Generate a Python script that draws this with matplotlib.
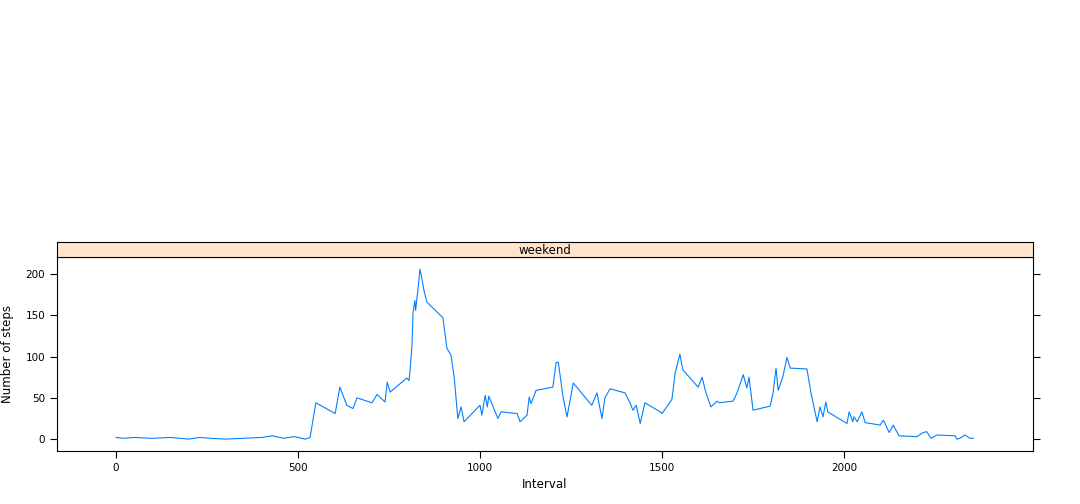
import matplotlib
matplotlib.use('Agg')
import matplotlib.pyplot as plt
from matplotlib.patches import Rectangle

# weekend average steps per 5-min interval
interval = [0, 20, 50, 100, 150, 200, 230, 260, 300, 350, 400, 430, 460, 490, 520, 533,
            549, 602, 615, 634, 651, 662, 703, 717, 739, 745, 753, 799, 805, 808, 813, 816,
            821, 823, 830, 835, 838, 846, 854, 898, 909, 920, 929, 937, 939, 948, 956, 1000,
            1005, 1014, 1020, 1024, 1049, 1058, 1102, 1110, 1129, 1135, 1140, 1154, 1200,
            1209, 1215, 1228, 1239, 1256, 1307, 1321, 1335, 1343, 1357, 1398, 1412, 1420,
            1429, 1440, 1453, 1495, 1500, 1527, 1536, 1549, 1557, 1599, 1610, 1620, 1634,
            1651, 1657, 1695, 1706, 1723, 1733, 1739, 1750, 1797, 1805, 1813, 1819, 1832,
            1843, 1852, 1898, 1909, 1926, 1934, 1942, 1950, 1955, 2008, 2014, 2024, 2027,
            2036, 2049, 2058, 2099, 2108, 2124, 2135, 2151, 2200, 2217, 2227, 2239, 2255,
            2305, 2310, 2318, 2332, 2346, 2355]
steps = [2, 1, 2, 1, 2, 0, 2, 1, 0, 1, 2, 4, 1, 3, 0, 2,
         44, 31, 63, 41, 37, 50, 44, 54, 45, 69, 57, 74, 71, 84, 114, 153,
         168, 156, 184, 206, 200, 180, 166, 147, 110, 102, 75, 35, 25, 39, 21, 41,
         29, 53, 39, 52, 25, 33, 31, 21, 29, 51, 43, 59, 63,
         93, 93, 51, 27, 68, 41, 56, 25, 50, 61, 56, 44, 35,
         41, 19, 44, 33, 31, 48, 80, 103, 84, 63, 75, 57, 39,
         46, 44, 46, 56, 78, 62, 75, 35, 40, 56, 86, 59, 76,
         99, 86, 85, 56, 21, 39, 27, 45, 33, 19, 33, 21, 27,
         21, 33, 20, 17, 23, 8, 17, 4, 3, 8, 9, 1, 5,
         4, 0, 1, 5, 1, 1]

fig = plt.figure(figsize=(10.8, 5.04), dpi=100)
ax = fig.add_axes([0.0528, 0.105, 0.9037, 0.385])
ax.plot(interval, steps, color='#0080ff', lw=0.8)
ax.set_xlim(-162, 2519)
ax.set_ylim(-14.5, 220.6)
ax.set_xticks([0, 500, 1000, 1500, 2000])
ax.set_yticks([0, 50, 100, 150, 200])
ax.tick_params(labelsize=7.5, direction='out', length=5, right=True)
ax.set_xlabel('Interval', fontsize=8.5)
ax.set_ylabel('Number of steps', fontsize=8.5, labelpad=8)
for s in ax.spines.values():
    s.set_linewidth(0.8)

# strip
sax = fig.add_axes([0.0528, 0.49, 0.9037, 0.0298])
sax.add_patch(Rectangle((0, 0), 1, 1, transform=sax.transAxes, color='#ffe5cc'))
sax.set_xticks([])
sax.set_yticks([])
sax.text(0.5, 0.45, 'weekend', ha='center', va='center', fontsize=8.5, transform=sax.transAxes)

fig.savefig('out.png', dpi=100)
